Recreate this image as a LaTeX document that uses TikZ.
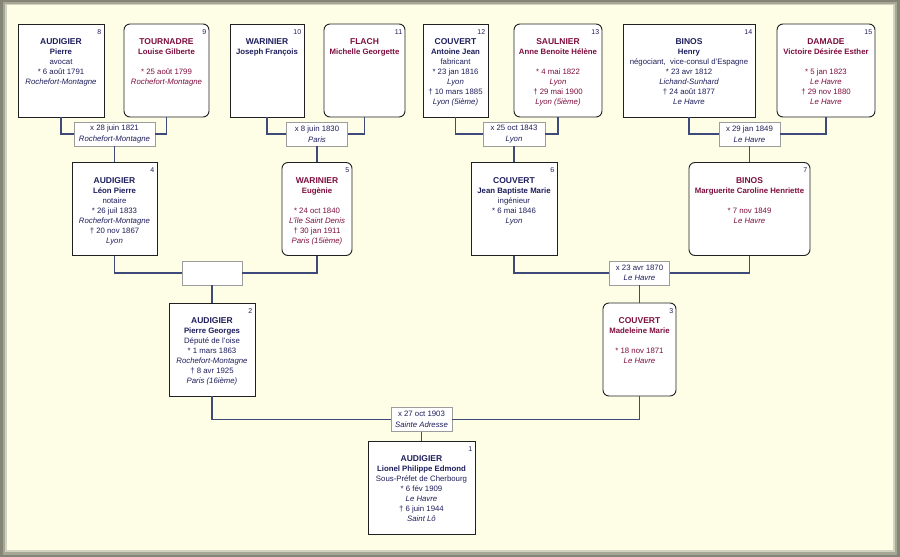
\documentclass[tikz,border=0pt]{standalone}
\usepackage{fontspec}
\setmainfont{Liberation Sans}

\definecolor{bleuH}{HTML}{1E1E5C}
\definecolor{rougeF}{HTML}{7E0E3E}
\definecolor{bord}{HTML}{202020}
\definecolor{bordmar}{HTML}{9C9C9C}
\definecolor{trait}{HTML}{3E4A7A}
\definecolor{fond}{HTML}{FEFEE6}
\definecolor{cadreA}{HTML}{858577}
\definecolor{cadreB}{HTML}{A6A694}
\definecolor{cadreC}{HTML}{D2D2C0}

\newcommand{\nomfam}[1]{{\fontsize{8.5}{10}\selectfont\bfseries #1}}
\newcommand{\prenoms}[1]{{\bfseries #1}}
\newcommand{\lieu}[1]{{\itshape #1}}

\tikzset{
  homme/.style={draw=bord, line width=0.8pt, fill=white, minimum width=#1, minimum height=93pt, inner sep=0pt},
  femme/.style={homme=#1, line width=0.9pt, rounded corners=6pt},
  texte/.style={anchor=north, align=center, inner sep=0pt, font=\fontsize{7.8}{10}\selectfont},
  numero/.style={anchor=north east, inner sep=0pt, xshift=-3pt, yshift=-5.5pt, font=\fontsize{7}{8}\selectfont, text=bleuH},
  mariage/.style={draw=bordmar, line width=0.8pt, fill=white, minimum width=#1, minimum height=24pt, inner sep=0pt, align=center, font=\fontsize{7.8}{10.5}\selectfont, text=bleuH},
  lien/.style={draw=trait, line width=1.1pt}
}

\begin{document}
\begin{tikzpicture}[x=1pt, y=-1pt]
\useasboundingbox (0,0) rectangle (900,557);
% Frame
\fill[cadreA] (0,0) rectangle (900,557);
\fill[cadreB] (3,2) rectangle (897,555);
\fill[cadreC] (5,4) rectangle (895,552);
\fill[fond] (7,5) rectangle (893,550);

% Generation 4
\node[homme=86pt] (b8) at (61,70.5) {};
\node[femme=85pt] (b9) at (166.5,70.5) {};
\node[homme=74pt] (b10) at (267,70.5) {};
\node[femme=81pt] (b11) at (364.5,70.5) {};
\node[homme=65pt] (b12) at (455.5,70.5) {};
\node[femme=88pt] (b13) at (558,70.5) {};
\node[homme=132pt] (b14) at (689,70.5) {};
\node[femme=98pt] (b15) at (826,70.5) {};

% Generation 3
\node[homme=85pt] (b4) at (114.5,209) {};
\node[femme=70pt] (b5) at (317,209) {};
\node[homme=86pt] (b6) at (514,209) {};
\node[femme=121pt] (b7) at (749.5,209) {};

% Generation 2
\node[homme=86pt] (b2) at (212,349.5) {};
\node[femme=73pt] (b3) at (639.5,349.5) {};

% Generation 1
\node[homme=107pt] (b1) at (421.5,487.5) {};

% Marriages
\node[mariage=81pt] (m1) at (114.5,134) {x 28 juin 1821\\\lieu{Rochefort-Montagne}};
\node[mariage=61pt] (m2) at (317,134) {x 8 juin 1830\\\lieu{Paris}};
\node[mariage=62pt] (m3) at (514,134) {x 25 oct 1843\\\lieu{Lyon}};
\node[mariage=61pt] (m4) at (749.5,134) {x 29 jan 1849\\\lieu{Le Havre}};
\node[mariage=60pt] (m5) at (212,273) {};
\node[mariage=60pt] (m6) at (639.5,273) {x 23 avr 1870\\\lieu{Le Havre}};
\node[mariage=61pt] (m7) at (421.5,419.5) {x 27 oct 1903\\\lieu{Sainte Adresse}};

% Links
\draw[lien] (b8.south) |- (m1.west);
\draw[lien] (b9.south) |- (m1.east);
\draw[lien] (m1.south) -- (b4.north);
\draw[lien] (b10.south) |- (m2.west);
\draw[lien] (b11.south) |- (m2.east);
\draw[lien] (m2.south) -- (b5.north);
\draw[lien] (b12.south) |- (m3.west);
\draw[lien] (b13.south) |- (m3.east);
\draw[lien] (m3.south) -- (b6.north);
\draw[lien] (b14.south) |- (m4.west);
\draw[lien] (b15.south) |- (m4.east);
\draw[lien] (m4.south) -- (b7.north);
\draw[lien] (b4.south) |- (m5.west);
\draw[lien] (b5.south) |- (m5.east);
\draw[lien] (m5.south) -- (b2.north);
\draw[lien] (b6.south) |- (m6.west);
\draw[lien] (b7.south) |- (m6.east);
\draw[lien] (m6.south) -- (b3.north);
\draw[lien] (b2.south) |- (m7.west);
\draw[lien] (b3.south) |- (m7.east);
\draw[lien] (m7.south) -- (b1.north);

% Numbers
\node[numero] (n1) at (b1.north east) {1};
\node[numero] (n2) at (b2.north east) {2};
\node[numero] (n3) at (b3.north east) {3};
\node[numero] (n4) at (b4.north east) {4};
\node[numero] (n5) at (b5.north east) {5};
\node[numero] (n6) at (b6.north east) {6};
\node[numero] (n7) at (b7.north east) {7};
\node[numero] (n8) at (b8.north east) {8};
\node[numero] (n9) at (b9.north east) {9};
\node[numero] (n10) at (b10.north east) {10};
\node[numero] (n11) at (b11.north east) {11};
\node[numero] (n12) at (b12.north east) {12};
\node[numero] (n13) at (b13.north east) {13};
\node[numero] (n14) at (b14.north east) {14};
\node[numero] (n15) at (b15.north east) {15};

% Texts
\node[texte, text=bleuH] (t8) at ([yshift=-15pt]b8.north) {\nomfam{AUDIGIER}\\\prenoms{Pierre}\\avocat\\* 6 août 1791\\\lieu{Rochefort-Montagne}};
\node[texte, text=rougeF] (t9) at ([yshift=-15pt]b9.north) {\nomfam{TOURNADRE}\\\prenoms{Louise Gilberte}\\~\\* 25 août 1799\\\lieu{Rochefort-Montagne}};
\node[texte, text=bleuH] (t10) at ([yshift=-15pt]b10.north) {\nomfam{WARINIER}\\\prenoms{Joseph François}};
\node[texte, text=rougeF] (t11) at ([yshift=-15pt]b11.north) {\nomfam{FLACH}\\\prenoms{Michelle Georgette}};
\node[texte, text=bleuH] (t12) at ([yshift=-15pt]b12.north) {\nomfam{COUVERT}\\\prenoms{Antoine Jean}\\fabricant\\* 23 jan 1816\\\lieu{Lyon}\\† 10 mars 1885\\\lieu{Lyon (5ième)}};
\node[texte, text=rougeF] (t13) at ([yshift=-15pt]b13.north) {\nomfam{SAULNIER}\\\prenoms{Anne Benoite Hélène}\\~\\* 4 mai 1822\\\lieu{Lyon}\\† 29 mai 1900\\\lieu{Lyon (5ième)}};
\node[texte, text=bleuH] (t14) at ([yshift=-15pt]b14.north) {\nomfam{BINOS}\\\prenoms{Henry}\\négociant,\ \ vice-consul d'Espagne\\* 23 avr 1812\\\lieu{Lichand-Sunhard}\\† 24 août 1877\\\lieu{Le Havre}};
\node[texte, text=rougeF] (t15) at ([yshift=-15pt]b15.north) {\nomfam{DAMADE}\\\prenoms{Victoire Désirée Esther}\\~\\* 5 jan 1823\\\lieu{Le Havre}\\† 29 nov 1880\\\lieu{Le Havre}};
\node[texte, text=bleuH] (t4) at ([yshift=-15pt]b4.north) {\nomfam{AUDIGIER}\\\prenoms{Léon Pierre}\\notaire\\* 26 juil 1833\\\lieu{Rochefort-Montagne}\\† 20 nov 1867\\\lieu{Lyon}};
\node[texte, text=rougeF] (t5) at ([yshift=-15pt]b5.north) {\nomfam{WARINIER}\\\prenoms{Eugènie}\\~\\* 24 oct 1840\\\lieu{L'île Saint Denis}\\† 30 jan 1911\\\lieu{Paris (15ième)}};
\node[texte, text=bleuH] (t6) at ([yshift=-15pt]b6.north) {\nomfam{COUVERT}\\\prenoms{Jean Baptiste Marie}\\ingénieur\\* 6 mai 1846\\\lieu{Lyon}};
\node[texte, text=rougeF] (t7) at ([yshift=-15pt]b7.north) {\nomfam{BINOS}\\\prenoms{Marguerite Caroline Henriette}\\~\\* 7 nov 1849\\\lieu{Le Havre}};
\node[texte, text=bleuH] (t2) at ([yshift=-15pt]b2.north) {\nomfam{AUDIGIER}\\\prenoms{Pierre Georges}\\Député de l'oise\\* 1 mars 1863\\\lieu{Rochefort-Montagne}\\† 8 avr 1925\\\lieu{Paris (16ième)}};
\node[texte, text=rougeF] (t3) at ([yshift=-15pt]b3.north) {\nomfam{COUVERT}\\\prenoms{Madeleine Marie}\\~\\* 18 nov 1871\\\lieu{Le Havre}};
\node[texte, text=bleuH] (t1) at ([yshift=-15pt]b1.north) {\nomfam{AUDIGIER}\\\prenoms{Lionel Philippe Edmond}\\Sous-Préfet de Cherbourg\\* 6 fév 1909\\\lieu{Le Havre}\\† 6 juin 1944\\\lieu{Saint Lô}};
\end{tikzpicture}
\end{document}
